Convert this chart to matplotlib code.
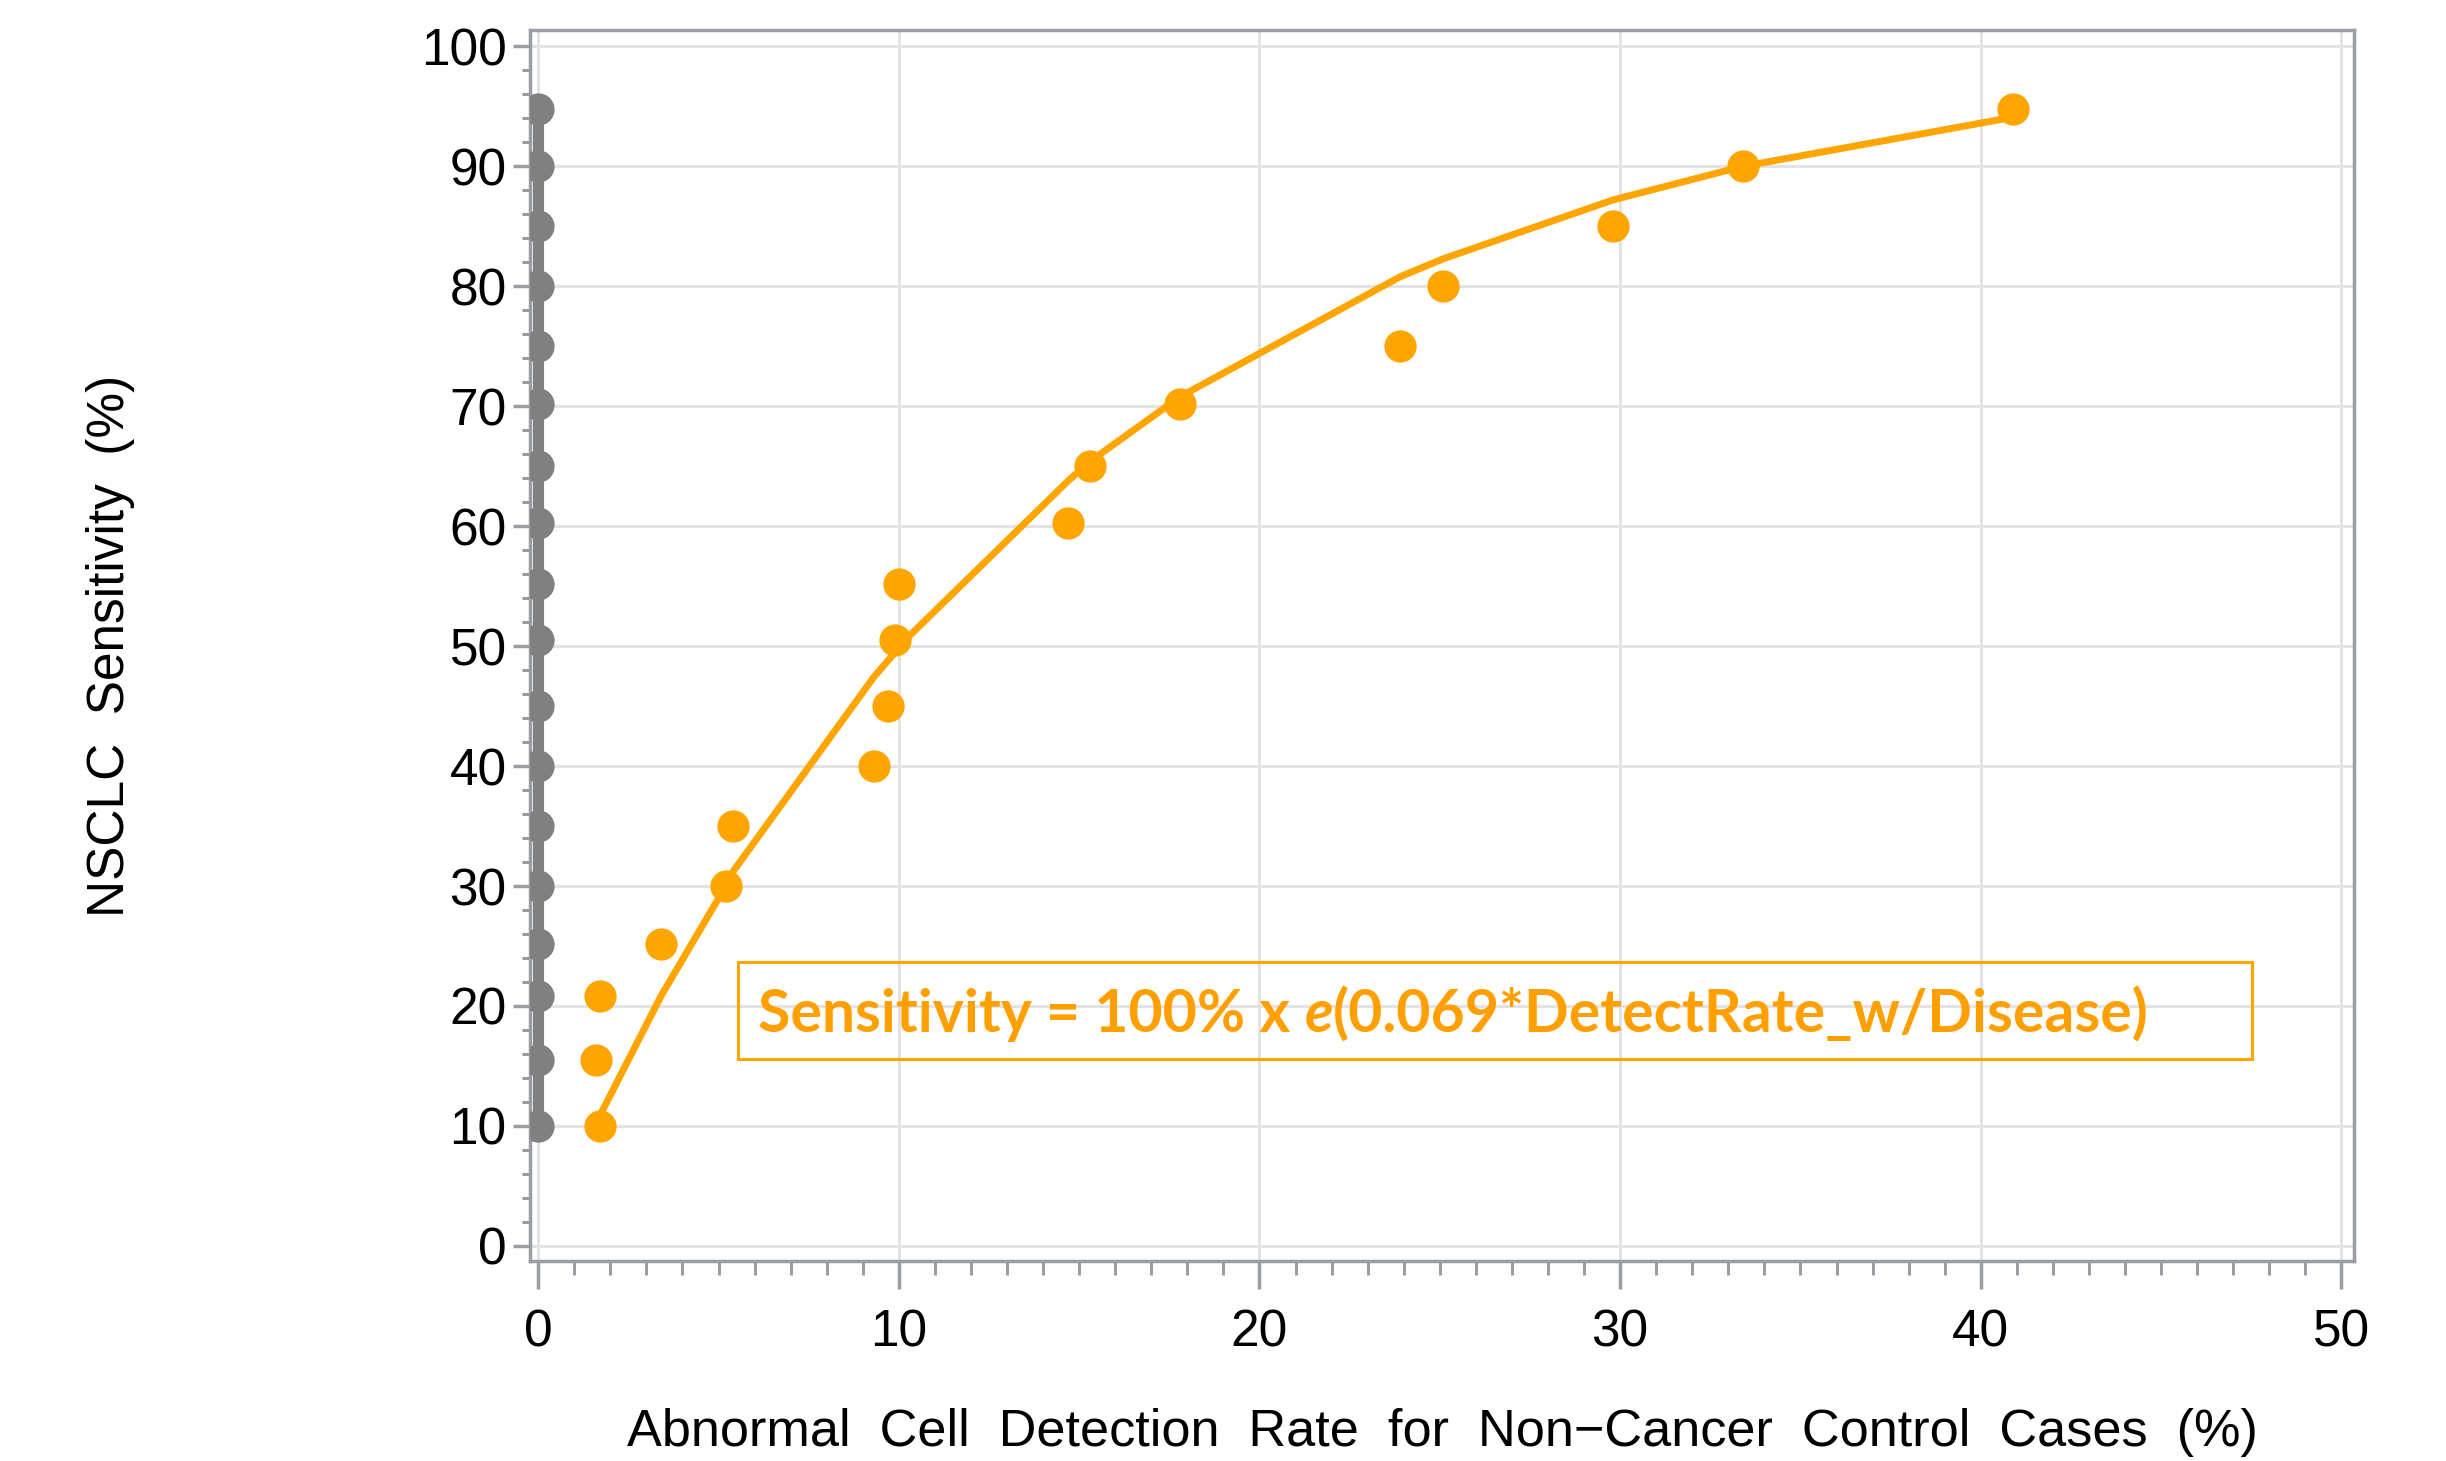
import numpy as np
import matplotlib
matplotlib.use('Agg')
import matplotlib.pyplot as plt
from matplotlib.patches import Rectangle
from matplotlib.ticker import MultipleLocator

# observed points: abnormal cell detection rate in controls (%) vs NSCLC sensitivity (%)
detect_rate = [1.7, 1.6, 1.7, 3.4, 5.2, 5.4, 9.3, 9.7, 9.9, 10.0,
               14.7, 15.3, 17.8, 23.9, 25.1, 29.8, 33.4, 40.9]
sensitivity = [10, 15.5, 20.8, 25.2, 30, 35, 40, 45, 50.5, 55.2,
               60.3, 65, 70.2, 75, 80, 85, 90, 94.8]

# reference series at zero detection rate
zero_rate = [0] * len(sensitivity)

# fitted curve
fit_x = [1.7, 3.4, 5.2, 5.4, 9.3, 9.7, 9.9, 10.0, 14.7, 15.3, 17.8,
         23.9, 25.1, 29.8, 33.4, 40.9]
fit_y = [10.8, 20.8, 30.0, 31.2, 47.4, 48.8, 49.5, 50.0, 63.8, 65.4, 70.8,
         80.8, 82.3, 87.2, 90.0, 94.1]

xticks = [0, 10, 20, 30, 40, 50]
yticks = list(range(0, 101, 10))

ORANGE = '#FFA500'
TEXT_ORANGE = '#FF9F00'
GRAY = '#808080'
AXIS_GRAY = '#9A9EA3'

plt.rcParams['font.family'] = ['Liberation Sans', 'DejaVu Sans']

fig = plt.figure(figsize=(24.46, 14.61), dpi=100)
ax = fig.add_axes([0.2168, 0.1366, 0.9624 - 0.2168, 0.9797 - 0.1366])

ax.set_xlim(-0.22, 50.35)
ax.set_ylim(-1.3, 101.4)

ax.grid(True, color='#E3E3E3', linewidth=2.2, zorder=0)
ax.set_axisbelow(True)

ax.plot(zero_rate, sensitivity, color=GRAY, linewidth=8, zorder=2)
ax.scatter(zero_rate, sensitivity, s=540, color=GRAY, zorder=3, linewidths=0)

ax.plot(fit_x, fit_y, color=ORANGE, linewidth=5, zorder=2)
ax.scatter(detect_rate, sensitivity, s=540, color=ORANGE, zorder=3, linewidths=0)

ax.set_xticks(xticks)
ax.set_yticks(yticks)
ax.xaxis.set_minor_locator(MultipleLocator(1))
ax.yaxis.set_minor_locator(MultipleLocator(2))

for s in ax.spines.values():
    s.set_color(AXIS_GRAY)
    s.set_linewidth(2.5)

ax.tick_params(axis='x', which='major', length=20, width=2.5, color=AXIS_GRAY,
               labelsize=37, pad=14)
ax.tick_params(axis='x', which='minor', length=10, width=2.2, color=AXIS_GRAY)
ax.tick_params(axis='y', which='major', length=12, width=2.5, color=AXIS_GRAY,
               labelsize=37, pad=5)
ax.tick_params(axis='y', which='minor', length=6, width=2.2, color=AXIS_GRAY)

ax.set_xlabel('Abnormal  Cell  Detection  Rate  for  Non\u2212Cancer  Control  Cases  (%)',
              fontsize=37.6, labelpad=36)
ax.set_ylabel('NSCLC  Sensitivity  (%)', fontsize=37, labelpad=206)

# annotation box with fitted formula
ax.add_patch(Rectangle((0.114, 0.1646), 0.944 - 0.114, 0.2434 - 0.1646,
                       transform=ax.transAxes, fill=False, edgecolor=ORANGE,
                       linewidth=2.2, zorder=4))
tfont = dict(family=['Lato', 'DejaVu Sans'], fontsize=42.4, color=TEXT_ORANGE,
             fontweight='bold')
t1 = ax.text(0.125, 0.1997, 'Sensitivity = 100% x ', transform=ax.transAxes,
             va='center', ha='left', zorder=5, **tfont)
t2 = ax.annotate('e', xy=(1, 0), xycoords=t1, va='bottom', ha='left',
                 fontstyle='italic', zorder=5, **tfont)
t3 = ax.annotate('(0.069*DetectRate_w/Disease)', xy=(1, 0), xycoords=t2,
                 va='bottom', ha='left', zorder=5, **tfont)

fig.savefig('out.png', dpi=100)
